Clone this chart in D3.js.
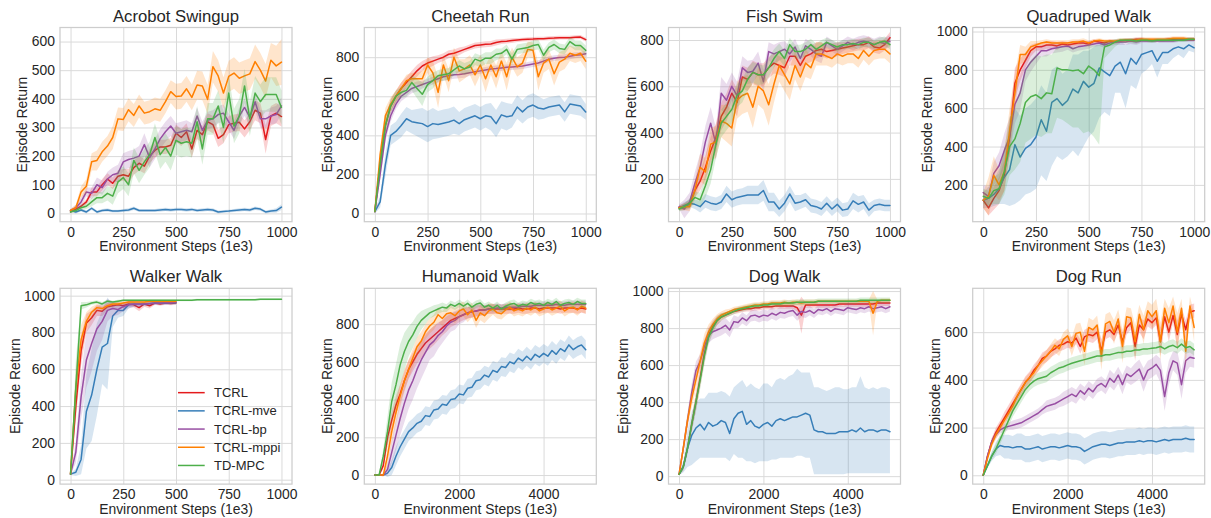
<!DOCTYPE html>
<html>
<head>
<meta charset="utf-8">
<script src="https://cdn.jsdelivr.net/npm/d3@7"></script>
<style>
  body { margin: 0; background: #fff; }
  svg { display: block; }
</style>
</head>
<body>
<svg id="fig" width="1211" height="518"></svg>
<script>
// ---- Methods (legend order = drawing order) ----
const methodNames = ["TCRL", "TCRL-mve", "TCRL-bp", "TCRL-mppi", "TD-MPC"];
const methodColors = ["#e41a1c", "#377eb8", "#984ea3", "#ff7f00", "#4daf4a"];

// ---- Evaluation steps (1e3) ----
const steps1k = d3.range(0, 1001, 25);
const steps500 = d3.range(0, 501, 25);
const steps5k = d3.range(0, 5001, 100);

// ---- Acrobot Swingup ----
const acrobot_tcrl = [5,15,25,40,75,75,100,120,105,130, 135,130,160,175,165,200,220,232,232,238, 280,265,285,225,290,275,320,310,262,275, 310,315,318,295,320,360,350,258,340,350, 338];
const acrobot_tcrl_sd = [3,5,8,10,15,15,20,20,20,20, 20,25,25,25,25,25,25,25,25,25, 30,30,30,30,30,30,30,30,30,30, 30,30,30,30,30,35,35,50,35,35, 35];
const acrobot_mve = [10,5,12,5,18,5,10,12,8,8, 10,12,18,10,10,10,10,12,14,12, 14,14,12,14,10,12,14,12,5,7, 8,10,12,14,12,18,15,5,8,10, 22];
const acrobot_mve_sd = [4,5,5,5,6,5,5,6,5,5, 5,6,6,5,5,5,5,6,6,6, 6,6,6,6,5,6,6,6,5,5, 5,5,6,6,6,6,6,5,6,8, 10];
const acrobot_bp = [10,20,40,75,70,100,90,120,135,140, 180,188,193,200,240,195,225,260,285,305, 280,285,290,285,340,290,325,330,345,350, 320,290,340,370,335,390,330,330,340,345, 375];
const acrobot_bp_sd = [5,10,15,15,20,25,25,25,25,30, 30,30,30,35,40,35,35,35,35,35, 35,35,35,30,30,30,30,30,30,30, 30,30,30,30,30,30,30,30,30,30, 30];
const acrobot_mppi = [10,20,75,95,180,185,215,235,265,330, 328,362,342,375,350,355,365,360,390,425, 408,410,435,405,448,445,398,512,480,420, 478,490,472,480,487,530,500,462,535,515, 528];
const acrobot_mppi_sd = [5,10,20,25,30,35,35,35,40,40, 40,40,40,40,40,40,40,40,40,40, 45,45,45,45,50,50,50,55,55,55, 55,55,55,55,55,60,60,60,60,70, 80];
const acrobot_tdmpc = [5,10,20,25,40,55,55,70,60,110, 125,100,185,150,180,205,265,205,230,200, 255,245,250,245,320,225,330,330,375,300, 420,305,340,445,330,420,390,415,415,415, 370];
const acrobot_tdmpc_sd = [3,5,10,10,15,20,20,25,30,40, 40,40,45,45,45,45,50,50,50,50, 50,50,50,50,55,55,55,55,55,55, 60,60,60,60,60,60,60,60,60,60, 60];

// ---- Cheetah Run ----
const cheetah_tcrl = [10,250,450,550,600,640,670,700,730,755, 770,780,790,800,815,820,830,840,850,860, 863,866,868,875,880,882,885,888,890,892, 893,895,895,897,898,900,900,900,902,903, 890];
const cheetah_tcrl_sd = [10,40,40,35,30,30,30,30,30,25, 25,25,20,20,20,20,20,15,15,15, 15,15,15,15,12,12,12,10,10,10, 10,10,10,10,10,10,10,10,10,10, 10];
const cheetah_mve = [10,60,250,400,420,450,485,470,465,460, 445,460,455,462,468,478,460,480,490,500, 485,500,495,460,505,495,500,545,520,545, 555,540,535,545,550,555,520,560,555,550, 520];
const cheetah_mve_sd = [10,30,60,50,50,60,60,60,70,80, 80,80,70,70,70,70,60,60,60,60, 60,60,70,70,70,70,60,60,60,60, 60,60,50,50,50,50,50,50,50,50, 40];
const cheetah_bp = [10,200,400,500,560,600,620,640,650,660, 670,680,690,700,705,710,712,715,720,725, 730,735,740,742,745,748,750,752,755,760, 765,770,780,790,795,798,800,805,810,812, 818];
const cheetah_bp_sd = [10,30,30,30,25,25,25,25,25,20, 20,20,20,20,20,20,20,20,15,15, 15,15,15,15,15,15,15,15,15,15, 15,15,15,15,15,15,15,15,15,15, 15];
const cheetah_mppi = [10,300,500,560,600,640,680,690,690,690, 760,720,620,760,680,800,730,740,760,710, 760,690,760,700,780,700,800,750,770,840, 835,700,770,790,715,775,790,820,810,820, 780];
const cheetah_mppi_sd = [10,40,40,35,30,30,30,30,30,40, 40,60,80,50,60,50,60,50,50,60, 50,70,50,60,50,70,50,50,50,40, 40,70,50,50,60,50,50,40,40,40, 40];
const cheetah_tdmpc = [10,250,450,550,600,620,630,670,640,610, 660,680,705,710,715,735,755,740,750,790, 780,795,795,815,820,840,790,840,845,850, 860,865,810,850,865,845,840,880,860,860, 835];
const cheetah_tdmpc_sd = [10,40,40,35,30,30,30,40,50,60, 40,40,30,30,30,30,30,30,30,30, 30,30,30,30,25,25,30,25,25,25, 25,25,30,25,25,25,25,25,25,25, 25];

// ---- Fish Swim ----
const fish_tcrl = [75,80,90,150,190,250,320,380,470,510, 570,530,640,630,660,650,650,680,700,690, 680,730,730,690,730,740,755,760,750,755, 760,765,770,775,780,780,790,770,765,780, 810];
const fish_tcrl_sd = [10,15,20,30,40,50,60,60,60,60, 60,60,50,50,50,50,50,45,45,40, 40,40,40,40,35,35,35,30,30,30, 30,25,25,25,25,25,25,25,25,25, 25];
const fish_mve = [75,85,95,90,80,105,95,90,100,135, 110,120,125,130,130,130,150,100,100,70, 95,135,95,100,110,85,80,70,95,70, 90,65,70,105,90,100,65,85,90,85, 85];
const fish_mve_sd = [10,15,15,20,25,30,30,30,30,35, 35,35,35,40,40,40,45,40,40,35, 35,35,35,30,30,30,30,30,30,30, 30,30,30,35,35,30,30,25,25,25, 25];
const fish_bp = [80,70,100,180,250,360,440,350,570,540, 600,560,680,660,665,700,620,750,740,750, 760,740,770,720,775,760,740,730,790,775, 760,775,790,780,790,795,790,780,790,785, 795];
const fish_bp_sd = [10,40,40,50,60,70,70,70,70,70, 60,60,50,50,50,50,50,40,40,40, 35,35,35,35,30,30,30,30,25,25, 25,25,25,25,25,25,25,25,25,25, 25];
const fish_mppi = [75,80,80,150,250,230,350,360,450,440, 420,540,560,570,510,600,580,520,610,690, 650,610,690,640,700,680,740,740,730,720, 740,730,740,740,720,755,730,755,760,760, 740];
const fish_mppi_sd = [10,15,20,40,60,60,70,70,70,80, 80,80,80,80,90,80,80,90,80,70, 70,70,60,60,60,50,50,50,40,40, 40,40,40,40,40,40,40,40,40,40, 40];
const fish_tdmpc = [70,80,95,120,110,170,240,350,440,470, 500,560,580,630,660,650,650,680,720,750, 720,780,750,750,760,780,760,775,790,780, 770,780,780,785,780,790,790,780,790,795, 780];
const fish_tdmpc_sd = [10,15,20,25,30,50,60,60,60,60, 60,50,50,50,45,45,40,40,40,35, 35,30,30,30,30,25,25,25,20,20, 20,20,20,20,20,20,20,20,20,20, 20];

// ---- Quadruped Walk ----
const quad_tcrl = [120,80,130,170,250,450,730,800,850,900, 920,920,930,930,925,935,930,935,940,940, 935,950,945,940,950,945,950,955,955,960, 960,955,955,955,955,960,960,960,960,960, 960];
const quad_tcrl_sd = [40,40,60,70,80,90,80,60,40,30, 20,20,20,20,20,15,15,15,15,15, 15,10,10,10,10,10,10,10,10,10, 10,10,10,10,10,10,10,10,10,10, 10];
const quad_mve = [120,130,150,180,240,280,410,345,390,410, 450,540,480,630,650,615,640,700,680,740, 710,730,810,790,770,820,840,780,860,830, 880,890,900,845,890,890,910,920,910,930, 915];
const quad_mve_lo = [80,80,90,100,100,90,100,120,150,160, 180,250,220,300,350,330,350,380,350,400, 450,480,550,580,560,680,680,600,720,700, 780,800,830,760,830,830,860,880,860,900, 890];
const quad_mve_hi = [160,190,230,280,380,450,600,560,600,620, 650,720,680,800,820,780,800,880,880,900, 900,920,940,940,930,950,950,930,950,940, 950,955,955,940,955,955,960,960,960,965, 960];
const quad_bp = [160,140,260,300,380,450,620,680,800,840, 870,900,900,910,915,920,925,910,920,925, 930,935,940,930,940,945,945,945,950,945, 950,950,950,950,950,950,950,955,955,955, 955];
const quad_bp_sd = [40,50,60,70,90,100,100,90,60,50, 40,30,30,25,25,25,20,20,20,20, 20,15,15,15,15,15,15,15,15,15, 10,10,10,10,10,10,10,10,10,10, 10];
const quad_mppi = [120,140,250,200,270,480,680,880,880,920, 930,940,945,940,940,940,940,945,945,950, 940,950,955,950,950,950,955,955,955,955, 960,960,960,960,960,960,965,965,965,960, 960];
const quad_mppi_sd = [40,100,100,80,100,120,100,50,40,30, 20,15,15,15,15,15,15,15,15,15, 15,10,10,10,10,10,10,10,10,10, 10,10,10,10,10,10,10,10,10,10, 10];
const quad_tdmpc = [140,130,170,180,270,400,440,520,630,660, 670,650,680,675,810,800,800,795,800,780, 820,800,770,920,930,945,955,955,955,950, 955,955,950,955,955,955,955,955,955,960, 960];
const quad_tdmpc_lo = [100,90,100,100,150,250,280,320,420,440, 460,450,470,470,550,540,520,500,500,470, 480,450,410,860,890,920,940,940,940,935, 945,945,940,945,945,945,945,945,945,950, 950];
const quad_tdmpc_hi = [180,170,240,260,390,550,600,700,800,850, 880,870,880,880,920,920,920,920,920,920, 930,930,930,950,955,960,965,965,965,965, 965,965,960,965,965,965,965,965,965,970, 970];

// ---- Walker Walk (TCRL variants to 500, TD-MPC to 1000) ----
const walker_tcrl = [30,400,700,850,880,920,915,940,945,950, 945,955,950,935,955,945,960,955,960,958, 960];
const walker_tcrl_sd = [5,80,80,50,40,30,25,20,15,15, 15,15,15,20,15,15,10,10,10,10, 10];
const walker_mve = [30,40,110,370,460,600,720,740,890,920, 920,950,955,955,955,958,960,960,960,962, 962];
const walker_mve_sd = [5,20,80,200,250,250,200,250,60,40, 30,20,15,15,10,10,10,10,10,10, 10];
const walker_bp = [30,150,450,650,740,820,860,920,930,925, 940,950,955,955,955,958,960,960,962,962, 965];
const walker_bp_sd = [5,60,120,150,150,120,100,60,40,30, 25,20,15,15,10,10,10,10,10,10, 10];
const walker_mppi = [30,500,760,860,910,935,930,945,955,955, 960,965,965,965,965,970,970,970,970,970, 970];
const walker_mppi_sd = [5,100,80,50,30,20,15,15,10,10, 10,8,8,8,8,8,8,8,8,8, 8];
const walker_tdmpc = [30,500,945,950,960,965,955,970,965,970, 975,975,975,975,975,975,975,975,975,975, 975,975,975,975,978,978,978,978,978,978, 978,978,978,978,978,978,980,980,980,980, 980];
const walker_tdmpc_sd = [5,150,20,15,10,10,10,8,8,8, 5,5,5,5,5,5,5,5,5,5, 5,5,5,5,5,5,5,5,5,5, 5,5,5,5,5,5,5,5,5,5, 5];

// ---- Humanoid Walk ----
const humanoid_tcrl = [0,0,50,200,290,370,430,500,560,600, 640,670,700,720,740,760,780,800,820,830, 840,850,860,865,870,875,875,880,880,880, 880,880,880,880,885,880,880,885,885,880, 885,885,885,885,880,885,885,885,880,885, 880];
const humanoid_tcrl_sd = [0,0,20,40,50,50,50,50,50,50, 50,50,50,50,50,45,40,40,35,35, 30,30,30,30,30,30,25,25,25,25, 25,25,25,25,25,25,25,25,25,25, 25,25,25,25,25,25,25,25,25,25, 25];
const humanoid_mve = [0,0,0,10,40,100,150,190,230,250, 274,285,315,310,345,350,375,370,400,405, 430,425,460,465,500,505,530,520,555,545, 575,570,600,590,620,605,630,610,640,625, 645,630,660,640,670,655,690,665,680,690, 664];
const humanoid_mve_sd = [0,0,0,20,40,50,50,50,50,50, 50,50,50,50,50,50,50,50,50,50, 50,50,50,50,50,50,50,50,50,50, 50,50,50,50,50,50,50,50,50,50, 50,50,50,50,50,50,50,50,50,50, 50];
const humanoid_bp = [0,0,0,30,120,210,300,380,450,500, 560,610,650,690,710,740,760,790,810,820, 840,850,860,865,870,875,875,880,880,885, 885,890,890,890,890,895,895,895,900,900, 900,900,900,905,900,900,905,905,905,905, 905];
const humanoid_bp_sd = [0,0,5,30,60,80,90,100,100,100, 100,100,90,80,80,70,60,60,50,50, 40,40,30,30,30,30,25,25,25,25, 20,20,20,20,20,20,20,20,20,20, 20,20,20,20,20,20,20,20,20,20, 20];
const humanoid_mppi = [0,0,0,100,230,330,420,500,560,620, 680,710,760,790,810, 850,830,855,860,845,870,880,850,875,820, 860,845,870,880,860,855,875,890,870,880, 870,885,875,890,870,880,890,875,885,895, 870,885,890,875,895,885];
const humanoid_mppi_sd = [0,0,10,50,60,60,60,60,50,50, 50,50,40,40,40,40,40,40,40,40, 40,40,40,40,40,40,40,40,30,30, 30,30,30,30,30,30,30,30,30,30, 30,30,30,30,30,30,30,30,30,30, 30];
const humanoid_tdmpc = [0,0,100,230,390,478,584,655,708,743, 788,820,840,860,870, 880,890,885,905,895,910,895,910,890,905, 912,890,900,885,900,880,895,905,910,895, 905,900,915,905,910,900,915,905,920,900, 910,915,905,920,910,910];
const humanoid_tdmpc_sd = [0,5,40,80,100,110,110,100,80,70, 60,50,40,30,30,25,25,20,20,20, 20,20,20,20,20,20,20,20,20,20, 20,20,20,20,20,20,20,20,20,20, 20,20,20,20,20,20,20,20,20,20, 20];

// ---- Dog Walk ----
const dogwalk_tcrl = [10,50,150,280,400,530,660,760,810,840, 860,870,880,890,895,900,905,905,910,910, 915,915,915,920,920,920,920,920,910,870, 925,925,925,925,925,925,925,925,930,930, 930,930,930,930,930,930,930,935,935,935, 935];
const dogwalk_tcrl_sd = [5,20,30,40,50,50,50,40,30,25, 20,15,15,15,15,15,15,15,15,15, 15,15,15,15,15,15,15,15,20,100, 15,15,15,15,15,15,15,15,15,15, 15,15,15,15,15,15,15,15,15,15, 15];
const dogwalk_mve = [10,50,150,220,260,280,250,290,270,280, 300,290,230,310,340,350,280,300,270,260, 280,290,270,300,310,300,310,320,320,330, 340,330,250,240,240,230,230,230,240,240, 240,250,240,260,240,250,250,240,250,250, 240];
const dogwalk_mve_lo = [5,20,50,60,80,100,100,100,100,100, 100,100,80,120,100,100,80,80,70,80, 80,80,90,90,100,100,100,100,110,110, 100,100,10,10,10,10,10,10,10,10, 15,15,15,15,15,15,15,15,15,15, 15];
const dogwalk_mve_hi = [15,80,250,350,400,420,420,450,450,450, 460,450,430,480,500,520,480,500,480,470, 500,500,480,520,530,520,540,550,580,560, 560,560,480,480,470,460,470,480,480,470, 470,480,480,540,480,470,480,470,480,480, 470];
const dogwalk_bp = [10,150,300,450,570,620,700,760,780,790, 800,815,790,835,830,855,840,865,870,860, 870,865,880,870,885,880,890,895,870,890, 885,895,880,900,895,905,890,905,900,895, 910,905,900,910,905,915,905,910,915,905, 915];
const dogwalk_bp_sd = [5,30,40,50,50,40,40,40,40,40, 40,40,40,35,30,30,30,30,30,30, 30,30,30,30,30,30,30,30,30,30, 30,25,25,25,25,25,25,25,25,25, 25,25,25,25,25,25,25,25,25,25, 25];
const dogwalk_mppi = [10,150,300,420,520,620,720,780,820,850, 870,880,890,900,905,910,915,920,925,925, 930,930,935,935,935,940,935,940,940,935, 940,940,940,945,945,945,945,945,945,945, 945,945,945,945,945,945,880,945,950,950, 950];
const dogwalk_mppi_sd = [5,30,40,50,50,50,50,40,30,25, 20,20,15,15,15,15,15,15,15,15, 15,15,15,15,15,15,15,15,15,15, 15,15,15,10,10,10,10,10,10,10, 10,10,10,10,10,10,120,10,10,10, 10];
const dogwalk_tdmpc = [10,50,150,280,400,520,650,750,800,840, 860,870,880,890,900,905,910,915,920,920, 925,925,930,930,930,935,935,935,940,940, 940,940,940,945,945,945,945,945,945,945, 945,945,945,950,950,950,950,950,950,950, 950];
const dogwalk_tdmpc_sd = [5,20,30,40,50,50,50,40,30,25, 20,15,15,15,15,15,15,15,15,15, 15,15,15,15,15,15,15,15,15,15, 15,15,15,15,15,15,15,15,15,15, 15,15,15,15,15,15,15,15,15,15, 15];

// ---- Dog Run ----
const dogrun_tcrl = [0,80,140,180,210,240,270,300,330,360, 390,410,440,460,490, 500,520,530,545,550,560,555,575,540,580, 590,585,600,520,600,610,590,630,560,620, 640,540,630,610,655,640,660,560,665,600, 670,590,675,610,685,690];
const dogrun_tcrl_sd = [0,10,15,20,20,25,25,25,25,25, 25,25,25,25,25,25,25,25,25,25, 25,25,25,30,30,30,30,30,50,30, 30,30,30,40,30,30,60,30,40,30, 30,30,60,30,40,30,60,30,40,30, 30];
const dogrun_mve = [0,40,80,110,125,120,120,115,120,120, 110,110,115,120,110,115,120,120,115,120, 125,120,120,115,100,110,120,125,130,130, 125,130,135,135,140,140,140,145,140,145, 145,140,145,150,145,150,150,150,155,150, 150];
const dogrun_mve_sd = [0,10,20,30,40,50,50,50,55,55, 55,55,55,55,55,55,55,55,55,55, 55,55,55,55,55,55,55,55,55,55, 55,55,55,55,55,55,55,55,55,55, 55,55,55,55,55,55,55,55,55,55, 55];
const dogrun_bp = [0,80,140,170,190,200,205,210,215,220, 230,240,250,260,275,289,295,300,310,320, 330,340,330,355,340,365,350,375,385,370, 407,390,420,380,425,414,430,445,400,440, 450,465,440,330,430,480,470,380,480,495, 491];
const dogrun_bp_sd = [0,10,15,15,15,15,15,20,20,20, 20,20,20,20,20,25,25,25,25,30, 30,30,30,30,30,30,30,30,30,30, 35,35,35,40,35,35,40,40,50,40, 40,40,50,60,50,40,50,60,50,40, 40];
const dogrun_mppi = [0,70,130,170,200,230,260,290,330,360, 390,410,430,460,480, 500,520,545,530,570,585,540,595,600,520, 620,610,630,500,635,645,600,655,540,665, 660,560,675,610,690,665,690,560,700,640, 710,600,700,520,710,620];
const dogrun_mppi_sd = [0,10,15,20,20,20,20,20,20,20, 20,20,20,25,25,25,30,30,30,30, 30,40,40,40,60,40,40,40,60,40, 40,50,40,70,40,40,70,40,60,40, 50,50,80,40,60,40,80,40,60,40, 60];
const dogrun_tdmpc = [0,40,80,110,150,190,230,270,300,330, 360,380,395,405,410,415,430,440,450,455, 463,470,475,480,485,490,495,500,500,505, 505,510,515,515,520,520,525,525,530,530, 533,535,540,530,540,545,535,550,535,540, 526];
const dogrun_tdmpc_sd = [0,10,15,20,20,20,25,25,25,25, 25,25,25,25,25,25,25,25,25,25, 25,25,25,25,25,25,25,25,25,25, 25,25,25,25,25,25,25,25,25,25, 25,25,25,25,25,25,25,25,25,25, 25];

// ---- Axis ticks per task ----
const ticks1k = [0, 250, 500, 750, 1000];
const ticks5k = [0, 2000, 4000];

// ---- Panel definitions built from the arrays above ----
const panels = [
  { title: "Acrobot Swingup", xDomain: [-50, 1050], xTicks: ticks1k, yDomain: [-29, 649], yTicks: [0,100,200,300,400,500,600],
    runs: [
      { x: steps1k, y: acrobot_tcrl, sd: acrobot_tcrl_sd },
      { x: steps1k, y: acrobot_mve, sd: acrobot_mve_sd },
      { x: steps1k, y: acrobot_bp, sd: acrobot_bp_sd },
      { x: steps1k, y: acrobot_mppi, sd: acrobot_mppi_sd },
      { x: steps1k, y: acrobot_tdmpc, sd: acrobot_tdmpc_sd } ] },
  { title: "Cheetah Run", xDomain: [-50, 1050], xTicks: ticks1k, yDomain: [-42, 952], yTicks: [0,200,400,600,800],
    runs: [
      { x: steps1k, y: cheetah_tcrl, sd: cheetah_tcrl_sd },
      { x: steps1k, y: cheetah_mve, sd: cheetah_mve_sd },
      { x: steps1k, y: cheetah_bp, sd: cheetah_bp_sd },
      { x: steps1k, y: cheetah_mppi, sd: cheetah_mppi_sd },
      { x: steps1k, y: cheetah_tdmpc, sd: cheetah_tdmpc_sd } ] },
  { title: "Fish Swim", xDomain: [-50, 1050], xTicks: ticks1k, yDomain: [15, 854], yTicks: [200,400,600,800],
    runs: [
      { x: steps1k, y: fish_tcrl, sd: fish_tcrl_sd },
      { x: steps1k, y: fish_mve, sd: fish_mve_sd },
      { x: steps1k, y: fish_bp, sd: fish_bp_sd },
      { x: steps1k, y: fish_mppi, sd: fish_mppi_sd },
      { x: steps1k, y: fish_tdmpc, sd: fish_tdmpc_sd } ] },
  { title: "Quadruped Walk", xDomain: [-50, 1050], xTicks: ticks1k, yDomain: [8, 1021], yTicks: [200,400,600,800,1000],
    runs: [
      { x: steps1k, y: quad_tcrl, sd: quad_tcrl_sd },
      { x: steps1k, y: quad_mve, lo: quad_mve_lo, hi: quad_mve_hi },
      { x: steps1k, y: quad_bp, sd: quad_bp_sd },
      { x: steps1k, y: quad_mppi, sd: quad_mppi_sd },
      { x: steps1k, y: quad_tdmpc, lo: quad_tdmpc_lo, hi: quad_tdmpc_hi } ] },
  { title: "Walker Walk", xDomain: [-50, 1050], xTicks: ticks1k, yDomain: [-24, 1040], yTicks: [0,200,400,600,800,1000], legend: true,
    runs: [
      { x: steps500, y: walker_tcrl, sd: walker_tcrl_sd },
      { x: steps500, y: walker_mve, sd: walker_mve_sd },
      { x: steps500, y: walker_bp, sd: walker_bp_sd },
      { x: steps500, y: walker_mppi, sd: walker_mppi_sd },
      { x: steps1k, y: walker_tdmpc, sd: walker_tdmpc_sd } ] },
  { title: "Humanoid Walk", xDomain: [-250, 5250], xTicks: ticks5k, yDomain: [-48, 990], yTicks: [0,200,400,600,800],
    runs: [
      { x: steps5k, y: humanoid_tcrl, sd: humanoid_tcrl_sd },
      { x: steps5k, y: humanoid_mve, sd: humanoid_mve_sd },
      { x: steps5k, y: humanoid_bp, sd: humanoid_bp_sd },
      { x: steps5k, y: humanoid_mppi, sd: humanoid_mppi_sd },
      { x: steps5k, y: humanoid_tdmpc, sd: humanoid_tdmpc_sd } ] },
  { title: "Dog Walk", xDomain: [-250, 5250], xTicks: ticks5k, yDomain: [-43, 1015], yTicks: [0,200,400,600,800,1000],
    runs: [
      { x: steps5k, y: dogwalk_tcrl, sd: dogwalk_tcrl_sd },
      { x: steps5k, y: dogwalk_mve, lo: dogwalk_mve_lo, hi: dogwalk_mve_hi },
      { x: steps5k, y: dogwalk_bp, sd: dogwalk_bp_sd },
      { x: steps5k, y: dogwalk_mppi, sd: dogwalk_mppi_sd },
      { x: steps5k, y: dogwalk_tdmpc, sd: dogwalk_tdmpc_sd } ] },
  { title: "Dog Run", xDomain: [-250, 5250], xTicks: ticks5k, yDomain: [-37, 784], yTicks: [0,200,400,600],
    runs: [
      { x: steps5k, y: dogrun_tcrl, sd: dogrun_tcrl_sd },
      { x: steps5k, y: dogrun_mve, sd: dogrun_mve_sd },
      { x: steps5k, y: dogrun_bp, sd: dogrun_bp_sd },
      { x: steps5k, y: dogrun_mppi, sd: dogrun_mppi_sd },
      { x: steps5k, y: dogrun_tdmpc, sd: dogrun_tdmpc_sd } ] }
];

// ---- Layout & style ----
const FONT = '"Liberation Sans", Arial, Helvetica, sans-serif';
const TEXT = "#262626";
const GRID = "#dadada";
const EDGE = "#cdcdcd";
const colLeft = [60, 364.3, 668.5, 972.7];
const plotW = 232;
const rowTop = [27.5, 288.3];
const plotH = [194.2, 195.8];

const svg = d3.select("#fig");

panels.forEach((p, k) => {
  const col = k % 4, row = Math.floor(k / 4);
  const w = plotW, h = plotH[row];
  const g = svg.append("g").attr("transform", `translate(${colLeft[col]},${rowTop[row]})`);

  const x = d3.scaleLinear().domain(p.xDomain).range([0, w]);
  const y = d3.scaleLinear().domain(p.yDomain).range([h, 0]);

  // grid lines and tick labels
  const gy = g.append("g")
    .call(d3.axisLeft(y).tickValues(p.yTicks).tickSize(-w).tickPadding(5).tickFormat(d3.format("d")));
  const gx = g.append("g").attr("transform", `translate(0,${h})`)
    .call(d3.axisBottom(x).tickValues(p.xTicks).tickSize(-h).tickPadding(5).tickFormat(d3.format("d")));
  [gy, gx].forEach(a => {
    a.attr("font-family", FONT).attr("font-size", 13.9);
    a.select(".domain").remove();
    a.selectAll(".tick line").attr("stroke", GRID).attr("stroke-width", 1);
    a.selectAll(".tick text").attr("fill", TEXT);
  });

  // clip region for the data
  const clipId = "clip" + k;
  g.append("clipPath").attr("id", clipId)
    .append("rect").attr("width", w).attr("height", h);
  const plot = g.append("g").attr("clip-path", `url(#${clipId})`);

  p.runs.forEach((r, i) => {
    const pts = r.y.map((v, j) => ({
      s: r.x[j], m: v,
      lo: r.lo ? r.lo[j] : v - r.sd[j],
      hi: r.hi ? r.hi[j] : v + r.sd[j]
    }));
    const area = d3.area().x(d => x(d.s)).y0(d => y(d.lo)).y1(d => y(d.hi));
    const line = d3.line().x(d => x(d.s)).y(d => y(d.m));
    plot.append("path").datum(pts).attr("d", area)
      .attr("fill", methodColors[i]).attr("fill-opacity", 0.2).attr("stroke", "none");
    plot.append("path").datum(pts).attr("d", line)
      .attr("fill", "none").attr("stroke", methodColors[i]).attr("stroke-width", 1.5)
      .attr("stroke-linejoin", "round").attr("stroke-linecap", "round");
  });

  // axes frame
  g.append("rect").attr("width", w).attr("height", h)
    .attr("fill", "none").attr("stroke", EDGE).attr("stroke-width", 1.25);

  // title
  g.append("text").attr("x", w / 2).attr("y", -6).attr("text-anchor", "middle")
    .attr("font-family", FONT).attr("font-size", 16.7).attr("fill", TEXT).text(p.title);

  // x label
  g.append("text").attr("x", w / 2).attr("y", h + 29.5).attr("text-anchor", "middle")
    .attr("font-family", FONT).attr("font-size", 13.9).attr("fill", TEXT).text("Environment Steps (1e3)");

  // y label, placed clear of the widest tick label
  const maxTick = d3.max(gy.selectAll(".tick text").nodes(), n => n.getComputedTextLength());
  g.append("text")
    .attr("transform", `translate(${-(maxTick + 5 + 9.5)},${h / 2}) rotate(-90)`)
    .attr("text-anchor", "middle").attr("dominant-baseline", "central")
    .attr("font-family", FONT).attr("font-size", 13.9).attr("fill", TEXT).text("Episode Return");

  // legend
  if (p.legend) {
    const lg = g.append("g").attr("transform", `translate(${w - 114},${h * 0.533})`);
    methodNames.forEach((name, i) => {
      const item = lg.append("g").attr("transform", `translate(0,${i * 18.2})`);
      item.append("line").attr("x1", 0).attr("x2", 26.7).attr("y1", 0).attr("y2", 0)
        .attr("stroke", methodColors[i]).attr("stroke-width", 1.5);
      item.append("text").attr("x", 36).attr("y", 0).attr("dominant-baseline", "central")
        .attr("font-family", FONT).attr("font-size", 13).attr("fill", TEXT).text(name);
    });
  }
});
</script>
</body>
</html>
